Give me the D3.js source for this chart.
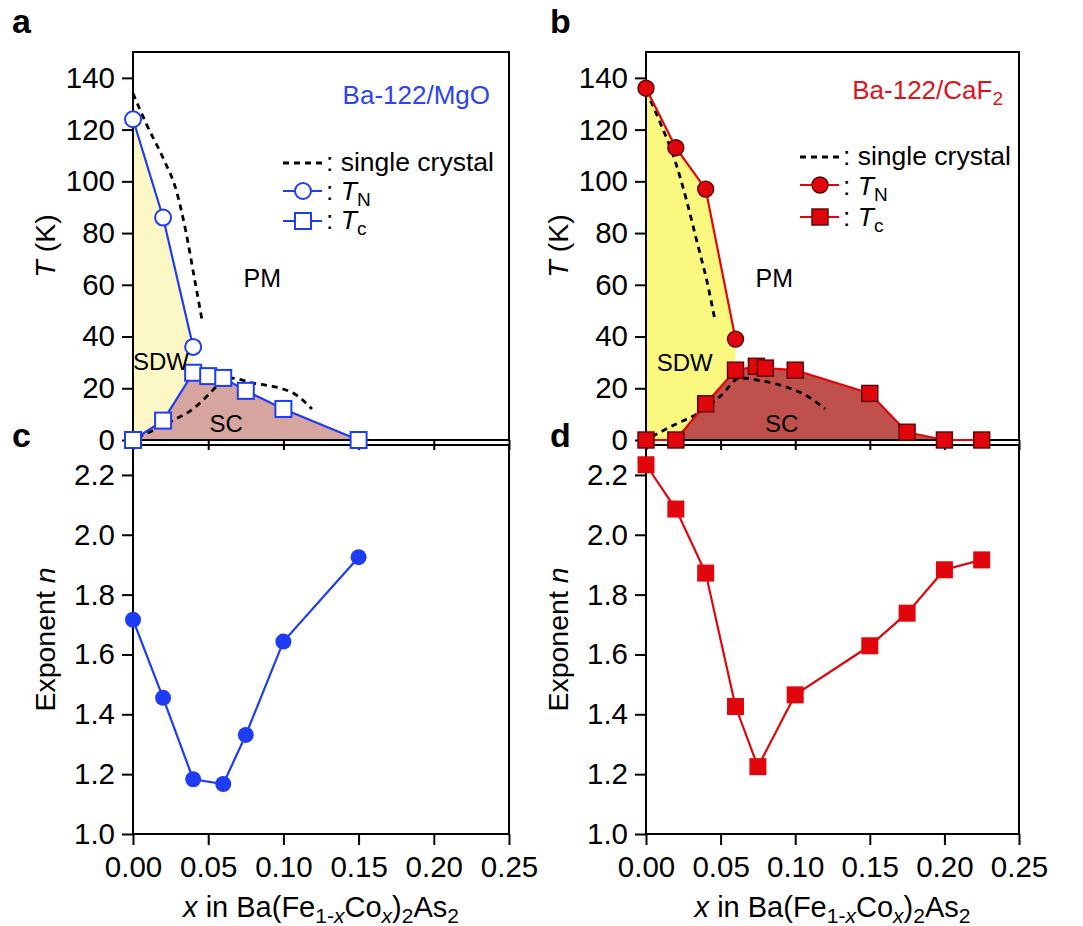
<!DOCTYPE html>
<html>
<head>
<meta charset="utf-8">
<script src="https://cdn.jsdelivr.net/npm/d3@7"></script>
<style>
  body { margin: 0; background: #fff; }
  text { font-family: 'Liberation Sans', Arial, Helvetica, sans-serif; fill: #000; }
  .tick line { stroke: #000; stroke-width: 2; }
  .tick text { font-size: 29.5px; }
</style>
</head>
<body>
<svg id="chart" width="1083" height="926"></svg>
<script>
// tick values
var xTicks = [0, 0.05, 0.10, 0.15, 0.20, 0.25];
var tTicks = [0, 20, 40, 60, 80, 100, 120, 140];
var nTicks = [1.0, 1.2, 1.4, 1.6, 1.8, 2.0, 2.2];

// Ba-122/MgO : [x, T] and [x, n]
var mgoTN = [[0, 124], [0.02, 86], [0.04, 36]];
var mgoTc = [[0, 0], [0.02, 7.5], [0.04, 26], [0.05, 24.7], [0.06, 24], [0.075, 19], [0.10, 12], [0.15, 0]];
var mgoN = [[0, 1.716], [0.02, 1.455], [0.04, 1.183], [0.06, 1.167], [0.075, 1.331], [0.10, 1.643], [0.15, 1.925]];
var mgoCrystalTN = [[0, 134], [0.009, 122], [0.02, 109], [0.029, 96], [0.035, 81], [0.041, 62], [0.046, 46]];
var mgoCrystalTc = [[0.003, 1], [0.023, 6.5], [0.042, 13], [0.051, 18], [0.058, 22], [0.064, 24], [0.080, 22], [0.098, 20], [0.107, 18], [0.119, 12]];

// Ba-122/CaF2
var cafTN = [[0, 136], [0.02, 113], [0.04, 97], [0.06, 39]];
var cafTc = [[0, 0], [0.02, 0], [0.04, 14], [0.06, 27], [0.074, 28.5], [0.08, 27.8], [0.10, 27], [0.15, 18], [0.175, 3], [0.20, 0], [0.225, 0]];
var cafN = [[0, 2.234], [0.02, 2.086], [0.04, 1.872], [0.06, 1.426], [0.075, 1.225], [0.10, 1.465], [0.15, 1.629], [0.175, 1.738], [0.20, 1.883], [0.225, 1.916]];
var cafCrystalTN = [[0, 135], [0.01, 122], [0.02, 107], [0.027, 93], [0.034, 77], [0.041, 61], [0.046, 47]];
var cafCrystalTc = [[0.004, 1.3], [0.016, 5], [0.038, 11.5], [0.05, 17], [0.063, 24], [0.076, 23], [0.094, 20.5], [0.108, 17], [0.12, 12]];

var svg = d3.select('#chart');

var topY = 52, midY = 440, lowTop = 445, bottomY = 834;

var panels = [
  {
    left: 133, right: 509, top: 'a', bottom: 'c', letterX: 12,
    color: '#1f3cf5', sdwFill: '#fbf8c6', scFill: '#d6a59f',
    tn: mgoTN, tc: mgoTc, n: mgoN, crystalTN: mgoCrystalTN, crystalTc: mgoCrystalTc,
    sdwEnd: 0.04, open: true,
    title: ['Ba-122/MgO'], titleColor: '#2b44ef', titleX: 490, titleY: 104,
    legX: 283, legY: [163, 191, 221], legTextY: [171, 200, 229],
    pm: [0.086, 59], sdw: [0, 27, 'start'], sc: [0.062, 3]
  },
  {
    left: 646, right: 1019, top: 'b', bottom: 'd', letterX: 550,
    color: '#e0060b', sdwFill: '#fbf880', scFill: '#c0504b',
    tn: cafTN, tc: cafTc, n: cafN, crystalTN: cafCrystalTN, crystalTc: cafCrystalTc,
    sdwEnd: 0.06, open: false,
    title: ['Ba-122/CaF', '2'], titleColor: '#e0121b', titleX: 1003, titleY: 99,
    legX: 800, legY: [157, 185, 217], legTextY: [165, 195, 226],
    pm: [0.086, 59], sdw: [0.026, 26.6, 'middle'], sc: [0.091, 3]
  }
];

function drawTop(p) {
  var x = d3.scaleLinear().domain([0, 0.25]).range([p.left, p.right]);
  var y = d3.scaleLinear().domain([0, 150]).range([midY, topY]);
  var line = d3.line().x(d => x(d[0])).y(d => y(d[1]));
  var g = svg.append('g');

  // SDW region between T_N and T_c
  var sdw = p.tn.concat(p.tc.filter(d => d[0] <= p.sdwEnd).reverse());
  g.append('path')
    .attr('d', line(sdw) + 'Z')
    .attr('fill', p.sdwFill);

  // SC dome
  g.append('path')
    .attr('d', d3.area().x(d => x(d[0])).y0(y(0)).y1(d => y(d[1]))(p.tc))
    .attr('fill', p.scFill);

  // single crystal dashed lines
  var smooth = d3.line().x(d => x(d[0])).y(d => y(d[1])).curve(d3.curveMonotoneX);
  [p.crystalTN, p.crystalTc].forEach(function (c) {
    g.append('path')
      .attr('d', smooth(c))
      .attr('fill', 'none')
      .attr('stroke', '#000')
      .attr('stroke-width', 2.8)
      .attr('stroke-dasharray', '6,5');
  });

  // frame
  g.append('rect')
    .attr('x', p.left).attr('y', topY)
    .attr('width', p.right - p.left).attr('height', midY - topY)
    .attr('fill', 'none').attr('stroke', '#000').attr('stroke-width', 2);

  // axes
  var yAxis = g.append('g')
    .attr('transform', 'translate(' + p.left + ',0)')
    .call(d3.axisLeft(y).tickValues(tTicks).tickSize(11).tickPadding(7));
  yAxis.select('.domain').remove();
  var xAxis = g.append('g')
    .attr('transform', 'translate(0,' + midY + ')')
    .call(d3.axisBottom(x).tickValues(xTicks).tickSize(10).tickFormat(''));
  xAxis.select('.domain').remove();
  g.selectAll('.tick text').attr('font-family', null).attr('font-size', null);

  // data lines
  [p.tn, p.tc].forEach(function (s) {
    g.append('path')
      .attr('d', line(s))
      .attr('fill', 'none')
      .attr('stroke', p.color)
      .attr('stroke-width', 2.2);
  });

  var mFill = p.open ? '#fff' : p.color;
  var mStroke = p.open ? p.color : '#5a0000';
  var mWidth = p.open ? 2 : 1.4;

  g.selectAll('.tn')
    .data(p.tn)
    .enter()
    .append('circle')
    .attr('cx', d => x(d[0]))
    .attr('cy', d => y(d[1]))
    .attr('r', 8)
    .attr('fill', mFill).attr('stroke', mStroke).attr('stroke-width', mWidth);

  g.selectAll('.tc')
    .data(p.tc)
    .enter()
    .append('rect')
    .attr('x', d => x(d[0]) - 8)
    .attr('y', d => y(d[1]) - 8)
    .attr('width', 16).attr('height', 16)
    .attr('fill', mFill).attr('stroke', mStroke).attr('stroke-width', mWidth);

  // legend
  var lx0 = p.legX, lx1 = p.legX + 39, lm = p.legX + 20;
  g.append('line')
    .attr('x1', lx0).attr('x2', lx1).attr('y1', p.legY[0]).attr('y2', p.legY[0])
    .attr('stroke', '#000').attr('stroke-width', 2.8).attr('stroke-dasharray', '6,5');
  g.append('line')
    .attr('x1', lx0).attr('x2', lx1).attr('y1', p.legY[1]).attr('y2', p.legY[1])
    .attr('stroke', p.color).attr('stroke-width', 2.2);
  g.append('circle')
    .attr('cx', lm).attr('cy', p.legY[1]).attr('r', 8)
    .attr('fill', mFill).attr('stroke', mStroke).attr('stroke-width', mWidth);
  g.append('line')
    .attr('x1', lx0).attr('x2', lx1).attr('y1', p.legY[2]).attr('y2', p.legY[2])
    .attr('stroke', p.color).attr('stroke-width', 2.2);
  g.append('rect')
    .attr('x', lm - 8).attr('y', p.legY[2] - 8).attr('width', 16).attr('height', 16)
    .attr('fill', mFill).attr('stroke', mStroke).attr('stroke-width', mWidth);

  g.append('text')
    .attr('x', lx1 + 4).attr('y', p.legTextY[0])
    .style('font-size', '26.5px')
    .text(': single crystal');
  [['N', 1], ['c', 2]].forEach(function (s) {
    var t = g.append('text')
      .attr('x', lx1 + 4).attr('y', p.legTextY[s[1]])
      .style('font-size', '26.5px');
    t.append('tspan').text(': ');
    t.append('tspan').style('font-style', 'italic').text('T');
    t.append('tspan').attr('dy', 6).style('font-size', '19px').text(s[0]);
  });

  // sample title
  var title = g.append('text')
    .attr('x', p.titleX).attr('y', p.titleY)
    .attr('text-anchor', 'end')
    .style('font-size', '26px')
    .style('fill', p.titleColor);
  title.append('tspan').style('fill', p.titleColor).text(p.title[0]);
  if (p.title[1]) {
    title.append('tspan').attr('dy', 6).style('font-size', '19px').style('fill', p.titleColor).text(p.title[1]);
  }

  // region labels
  g.append('text')
    .attr('x', x(p.pm[0])).attr('y', y(p.pm[1]))
    .attr('text-anchor', 'middle').style('font-size', '25px').text('PM');
  g.append('text')
    .attr('x', x(p.sdw[0])).attr('y', y(p.sdw[1]))
    .attr('text-anchor', p.sdw[2]).style('font-size', '24px').text('SDW');
  g.append('text')
    .attr('x', x(p.sc[0])).attr('y', y(p.sc[1]))
    .attr('text-anchor', 'middle').style('font-size', '24px').text('SC');

  // y label
  var yl = g.append('text')
    .attr('transform', 'translate(' + (p.left - 78) + ',' + ((topY + midY) / 2) + ') rotate(-90)')
    .attr('text-anchor', 'middle')
    .style('font-size', '28.5px');
  yl.append('tspan').style('font-style', 'italic').text('T');
  yl.append('tspan').text(' (K)');

  // panel letter
  g.append('text')
    .attr('x', p.letterX).attr('y', 33)
    .style('font-size', '34px').style('font-weight', 'bold')
    .text(p.top);
}

function drawBottom(p) {
  var x = d3.scaleLinear().domain([0, 0.25]).range([p.left, p.right]);
  var y = d3.scaleLinear().domain([1.0, 2.3]).range([bottomY, lowTop]);
  var line = d3.line().x(d => x(d[0])).y(d => y(d[1]));
  var g = svg.append('g');

  g.append('rect')
    .attr('x', p.left).attr('y', lowTop)
    .attr('width', p.right - p.left).attr('height', bottomY - lowTop)
    .attr('fill', 'none').attr('stroke', '#000').attr('stroke-width', 2);

  var yAxis = g.append('g')
    .attr('transform', 'translate(' + p.left + ',0)')
    .call(d3.axisLeft(y).tickValues(nTicks).tickSize(11).tickPadding(7).tickFormat(d3.format('.1f')));
  yAxis.select('.domain').remove();
  var xAxis = g.append('g')
    .attr('transform', 'translate(0,' + bottomY + ')')
    .call(d3.axisBottom(x).tickValues(xTicks).tickSize(11).tickPadding(11).tickFormat(d3.format('.2f')));
  xAxis.select('.domain').remove();
  g.selectAll('.tick text').attr('font-family', null).attr('font-size', null);

  g.append('path')
    .attr('d', line(p.n))
    .attr('fill', 'none')
    .attr('stroke', p.color)
    .attr('stroke-width', 2.2);

  if (p.open) {
    g.selectAll('.pt')
      .data(p.n)
      .enter()
      .append('circle')
      .attr('cx', d => x(d[0]))
      .attr('cy', d => y(d[1]))
      .attr('r', 8)
      .attr('fill', p.color);
  } else {
    g.selectAll('.pt')
      .data(p.n)
      .enter()
      .append('rect')
      .attr('x', d => x(d[0]) - 8.5)
      .attr('y', d => y(d[1]) - 8.5)
      .attr('width', 17).attr('height', 17)
      .attr('fill', p.color);
  }

  // y label
  var yl = g.append('text')
    .attr('transform', 'translate(' + (p.left - 78) + ',' + ((lowTop + bottomY) / 2) + ') rotate(-90)')
    .attr('text-anchor', 'middle')
    .style('font-size', '28.5px');
  yl.append('tspan').text('Exponent ');
  yl.append('tspan').style('font-style', 'italic').text('n');

  // x label
  var xl = g.append('text')
    .attr('x', (p.left + p.right) / 2).attr('y', 917)
    .attr('text-anchor', 'middle')
    .style('font-size', '29px');
  xl.append('tspan').style('font-style', 'italic').text('x');
  xl.append('tspan').text(' in Ba(Fe');
  xl.append('tspan').attr('dy', 6).style('font-size', '21px').text('1-');
  xl.append('tspan').style('font-size', '21px').style('font-style', 'italic').text('x');
  xl.append('tspan').attr('dy', -6).text('Co');
  xl.append('tspan').attr('dy', 6).style('font-size', '21px').style('font-style', 'italic').text('x');
  xl.append('tspan').attr('dy', -6).text(')');
  xl.append('tspan').attr('dy', 6).style('font-size', '21px').text('2');
  xl.append('tspan').attr('dy', -6).text('As');
  xl.append('tspan').attr('dy', 6).style('font-size', '21px').text('2');

  g.append('text')
    .attr('x', p.letterX).attr('y', 447)
    .style('font-size', '34px').style('font-weight', 'bold')
    .text(p.bottom);
}

// lower panels first so the upper x ticks and markers sit on top
panels.forEach(drawBottom);
panels.forEach(drawTop);
</script>
</body>
</html>
